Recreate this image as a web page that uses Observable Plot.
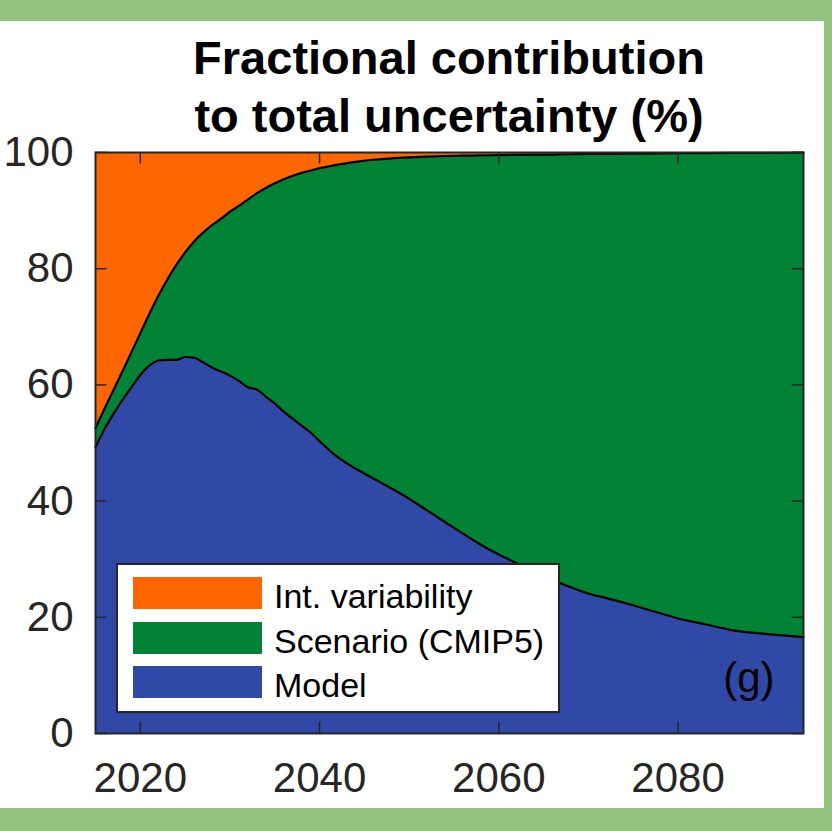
<!DOCTYPE html>
<html>
<head>
<meta charset="utf-8">
<script src="https://cdn.jsdelivr.net/npm/d3@7"></script>
<script src="https://cdn.jsdelivr.net/npm/@observablehq/plot@0.6"></script>
<style>
  html, body { margin: 0; padding: 0; background: #93c47d; }
  #panel { position: absolute; left: 0; top: 21px; width: 824px; height: 787px; background: #fff; overflow: hidden; }
  #chart { position: absolute; left: 0; top: 0; }
  .title { position: absolute; left: 95px; width: 708px; text-align: center; white-space: nowrap;
           font: bold 47px "Liberation Sans", Arial, sans-serif; line-height: 47px; color: #000; }
  #legend { position: absolute; left: 116px; top: 542px; width: 444px; height: 150px; box-sizing: border-box;
            background: #fff; border: 2px solid #262626; }
  .swatch { position: absolute; left: 15px; width: 129px; height: 32px; }
  .label { position: absolute; left: 156px; height: 32px; line-height: 32px; white-space: nowrap;
           font: 34px "Liberation Sans", Arial, sans-serif; color: #000; }
</style>
</head>
<body>
<div id="panel">
  <div id="chart"></div>
  <div class="title" style="top:12.5px">Fractional contribution</div>
  <div class="title" style="top:71px">to total uncertainty (%)</div>
  <div id="legend"></div>
</div>
<script>
// Fractional contribution (%) of each source to total projection uncertainty
const years = [
  2015, 2016, 2017, 2018, 2019, 2020, 2021, 2022, 2023, 2024,
  2025, 2026, 2027, 2028, 2029, 2030, 2031, 2032, 2033, 2034,
  2035, 2036, 2037, 2038, 2039, 2040, 2042, 2044, 2046, 2048,
  2050, 2052, 2054, 2056, 2058, 2060, 2062, 2064, 2066, 2068,
  2070, 2072, 2074, 2076, 2078, 2080, 2083, 2086, 2090, 2094
];
const model = [
  49.3, 52.4, 55.0, 57.4, 59.6, 61.7, 63.3, 64.2, 64.3, 64.3,
  64.8, 64.7, 63.9, 63.0, 62.3, 61.6, 60.7, 59.6, 59.2, 58.0,
  56.8, 55.4, 54.2, 53.0, 51.8, 50.3, 47.6, 45.6, 43.9, 42.2,
  40.4, 38.4, 36.4, 34.4, 32.5, 30.8, 29.3, 27.9, 26.4, 25.2,
  24.1, 23.3, 22.5, 21.6, 20.7, 19.8, 18.8, 17.8, 17.1, 16.6
];
const scenario = [
  3.3, 3.5, 4.1, 4.9, 6.0, 7.2, 8.9, 11.1, 13.8, 16.3,
  18.0, 20.0, 22.3, 24.5, 26.3, 28.2, 30.1, 32.3, 33.8, 35.9,
  37.9, 40.0, 41.8, 43.5, 45.1, 47.0, 50.3, 52.8, 54.85, 56.8,
  58.75, 60.9, 63.0, 65.05, 67.0, 68.75, 70.3, 71.72, 73.25, 74.5,
  75.65, 76.47, 77.3, 78.22, 79.15, 80.08, 81.1, 82.12, 82.85, 83.37
];
const internal = [
  47.4, 44.1, 40.9, 37.7, 34.4, 31.1, 27.8, 24.7, 21.9, 19.4,
  17.2, 15.3, 13.8, 12.5, 11.4, 10.2, 9.2, 8.1, 7.0, 6.1,
  5.3, 4.6, 4.0, 3.5, 3.1, 2.7, 2.1, 1.6, 1.25, 1.0,
  0.85, 0.7, 0.6, 0.55, 0.5, 0.45, 0.4, 0.38, 0.35, 0.3,
  0.25, 0.23, 0.2, 0.18, 0.15, 0.12, 0.1, 0.08, 0.05, 0.03
];

const sources = ["Int. variability", "Scenario (CMIP5)", "Model"];
const colors = ["#ff6600", "#028234", "#3149a6"];
const stackOrder = ["Model", "Scenario (CMIP5)", "Int. variability"];
const xTicks = [2020, 2040, 2060, 2080];
const yTicks = [0, 20, 40, 60, 80, 100];
const panelLabel = "(g)";

const rows = years.flatMap((year, i) => [
  {year, source: "Model", value: model[i]},
  {year, source: "Scenario (CMIP5)", value: scenario[i]},
  {year, source: "Int. variability", value: internal[i]}
]);

// plot geometry
const W = 824, H = 787;
const mt = 131, mb = 75, ml = 95, mr = 21;
const fw = W - ml - mr, fh = H - mt - mb;
const tickLen = 11.5;
const ink = "#262626";

const chart = Plot.plot({
  width: W,
  height: H,
  marginTop: mt,
  marginBottom: mb,
  marginLeft: ml,
  marginRight: mr,
  style: {fontFamily: "'Liberation Sans', Arial, sans-serif", fontSize: "42px", color: ink, background: "transparent"},
  x: {domain: [2015, 2094], ticks: xTicks, tickFormat: d3.format("d")},
  y: {domain: [0, 100], ticks: yTicks},
  color: {domain: sources, range: colors},
  marks: [
    Plot.areaY(rows, {x: "year", y: "value", fill: "source", order: stackOrder, curve: "monotone-x"}),
    Plot.lineY(rows.filter(d => d.source !== "Int. variability"),
      Plot.stackY2({x: "year", y: "value", z: "source", order: stackOrder,
        stroke: "#000", strokeWidth: 2.2, curve: "monotone-x"})),
    // inward ticks on all four sides
    Plot.ruleX(xTicks, {x: d => d, insetTop: fh - tickLen, stroke: ink, strokeWidth: 1.5}),
    Plot.ruleX(xTicks, {x: d => d, insetBottom: fh - tickLen, stroke: ink, strokeWidth: 1.5}),
    Plot.ruleY(yTicks, {y: d => d, insetRight: fw - tickLen, stroke: ink, strokeWidth: 1.5}),
    Plot.ruleY(yTicks, {y: d => d, insetLeft: fw - tickLen, stroke: ink, strokeWidth: 1.5}),
    Plot.frame({stroke: ink, strokeWidth: 2}),
    Plot.axisX({ticks: xTicks, tickFormat: d3.format("d"), tickSize: 0, tickPadding: 29, label: null, fill: ink}),
    Plot.axisY({ticks: yTicks, tickSize: 0, tickPadding: 22, label: null, fill: ink}),
    Plot.text([panelLabel], {frameAnchor: "bottom-right", text: d => d, textAnchor: "end",
      lineAnchor: "bottom", dx: -29, dy: -42, fill: "#000", fontSize: 42})
  ]
});
document.getElementById("chart").appendChild(chart);

// legend entries, top to bottom
const legend = document.getElementById("legend");
const rowTops = [12, 57, 101];
sources.forEach((name, i) => {
  const sw = document.createElement("div");
  sw.className = "swatch";
  sw.style.top = rowTops[i] + "px";
  sw.style.background = colors[i];
  legend.appendChild(sw);
  const lb = document.createElement("div");
  lb.className = "label";
  lb.style.top = rowTops[i] + "px";
  lb.textContent = name;
  legend.appendChild(lb);
});
</script>
</body>
</html>
